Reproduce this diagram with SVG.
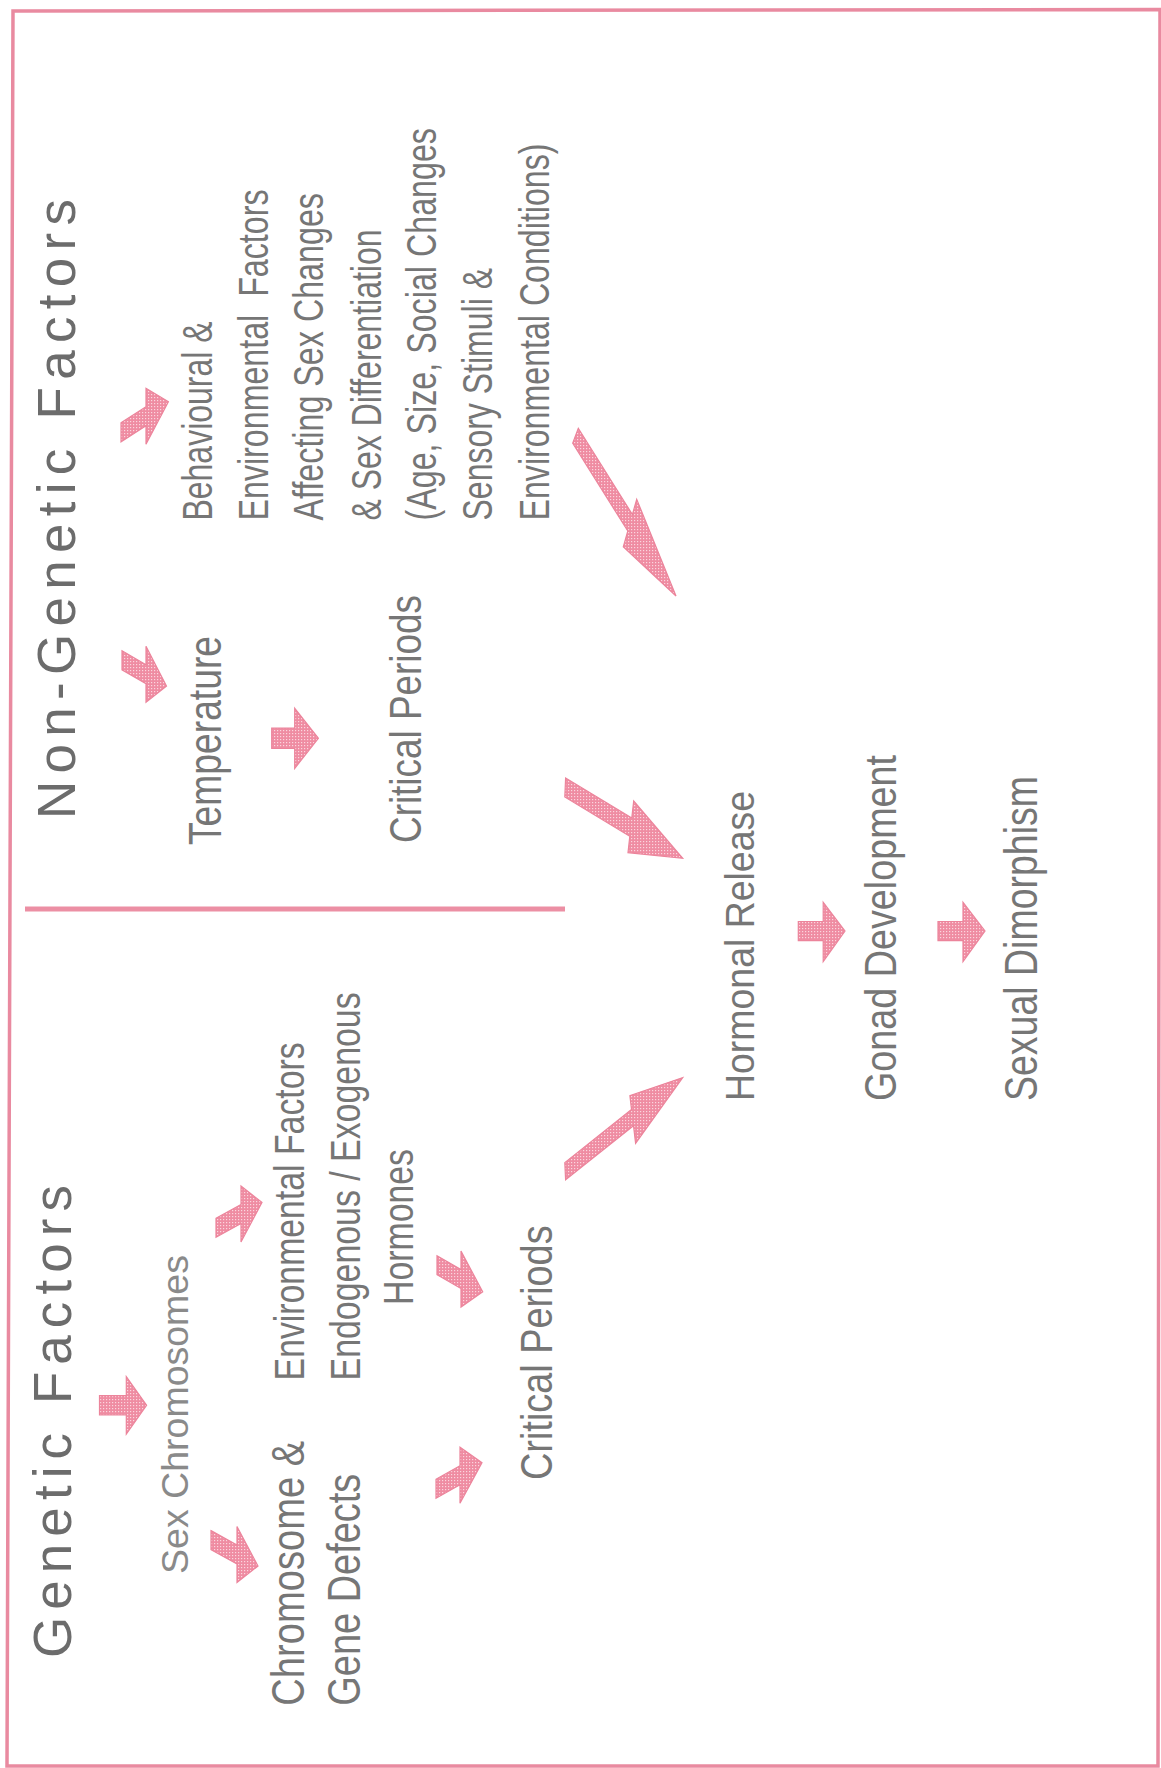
<svg xmlns="http://www.w3.org/2000/svg" width="1161" height="1768" viewBox="0 0 1161 1768">
<defs>
<pattern id="stip" width="3" height="3" patternUnits="userSpaceOnUse">
<rect width="3" height="3" fill="#ef8ca2"/>
<rect x="1" y="1" width="1.2" height="1.2" fill="#fbd6df"/>
</pattern>
</defs>
<style>
.t{font-family:"Liberation Sans Narrow","Liberation Sans",Arial,sans-serif;fill:#767676}
.w{font-family:"Liberation Sans",Arial,sans-serif;fill:#8a8a8a}
.h{font-family:"Liberation Sans",Arial,sans-serif;fill:#6c6c6c;font-size:53px}
.arr{fill:url(#stip);stroke:#ec849b;stroke-width:1.2;stroke-linejoin:miter}
</style>
<rect width="1161" height="1768" fill="#ffffff"/>
<polygon points="13,11 1160,9.5 1158,1766 7,1766" fill="none" stroke="#e98aa0" stroke-width="3.5"/>
<line x1="25" y1="909" x2="565" y2="909" stroke="#ec8fa4" stroke-width="5"/>

<g id="genetic-title"><text class="h" transform="translate(71,1658) rotate(-90)" textLength="473" lengthAdjust="spacing">Genetic Factors</text></g>
<g id="nongenetic-title"><text class="h" transform="translate(74.5,819) rotate(-90)" textLength="620" lengthAdjust="spacing">Non-Genetic Factors</text></g>

<g id="sex-chromosomes"><text class="w" font-size="37.5" transform="translate(187.5,1574) rotate(-90)" textLength="319" lengthAdjust="spacingAndGlyphs">Sex Chromosomes</text></g>
<g id="chromosome-gene-defects">
<text class="t" font-size="46" transform="translate(303.5,1705.7) rotate(-90)" textLength="265" lengthAdjust="spacingAndGlyphs">Chromosome &amp;</text>
<text class="t" font-size="46" transform="translate(359.5,1705.7) rotate(-90)" textLength="232" lengthAdjust="spacingAndGlyphs">Gene Defects</text>
</g>
<g id="environmental-hormones">
<text class="t" font-size="43" transform="translate(304,1380.4) rotate(-90)" textLength="338" lengthAdjust="spacingAndGlyphs">Environmental Factors</text>
<text class="t" font-size="43" transform="translate(359.5,1380.4) rotate(-90)" textLength="388" lengthAdjust="spacingAndGlyphs">Endogenous / Exogenous</text>
<text class="t" font-size="43" transform="translate(412.5,1305) rotate(-90)" textLength="156" lengthAdjust="spacingAndGlyphs">Hormones</text>
</g>
<g id="critical-periods-genetic"><text class="t" font-size="45" transform="translate(552,1480) rotate(-90)" textLength="254.6" lengthAdjust="spacingAndGlyphs">Critical Periods</text></g>

<g id="temperature"><text class="t" font-size="46" transform="translate(221,845) rotate(-90)" textLength="209" lengthAdjust="spacingAndGlyphs">Temperature</text></g>
<g id="critical-periods-nongenetic"><text class="t" font-size="45" transform="translate(421,843) rotate(-90)" textLength="248" lengthAdjust="spacingAndGlyphs">Critical Periods</text></g>
<g id="behavioural-factors">
<text class="t" font-size="42.5" transform="translate(212.4,520.5) rotate(-90)" textLength="199" lengthAdjust="spacingAndGlyphs">Behavioural &amp;</text>
<text class="t" font-size="42.5" transform="translate(267.6,520.5) rotate(-90)" textLength="331" lengthAdjust="spacingAndGlyphs" xml:space="preserve" style="white-space:pre">Environmental  Factors</text>
<text class="t" font-size="42.5" transform="translate(323.4,520.5) rotate(-90)" textLength="327.5" lengthAdjust="spacingAndGlyphs">Affecting Sex Changes</text>
<text class="t" font-size="42.5" transform="translate(380.6,520.5) rotate(-90)" textLength="291" lengthAdjust="spacingAndGlyphs">&amp; Sex Differentiation</text>
<text class="t" font-size="42.5" transform="translate(436.3,520.5) rotate(-90)" textLength="392.5" lengthAdjust="spacingAndGlyphs">(Age, Size, Social Changes</text>
<text class="t" font-size="42.5" transform="translate(491.6,520.5) rotate(-90)" textLength="252.5" lengthAdjust="spacingAndGlyphs">Sensory Stimuli &amp;</text>
<text class="t" font-size="42.5" transform="translate(549.2,520.5) rotate(-90)" textLength="377" lengthAdjust="spacingAndGlyphs">Environmental Conditions)</text>
</g>

<g id="hormonal-release"><text class="t" font-size="41" transform="translate(754.3,1101) rotate(-90)" textLength="310" lengthAdjust="spacingAndGlyphs">Hormonal Release</text></g>
<g id="gonad-development"><text class="t" font-size="45" transform="translate(895.5,1101) rotate(-90)" textLength="346" lengthAdjust="spacingAndGlyphs">Gonad Development</text></g>
<g id="sexual-dimorphism"><text class="t" font-size="46" transform="translate(1036.5,1101) rotate(-90)" textLength="325" lengthAdjust="spacingAndGlyphs">Sexual Dimorphism</text></g>

<g id="connectors">
<polygon class="arr" points="99.5,1395.7 126.3,1395.7 126.3,1376.6 146.6,1405.3 126.3,1434 126.3,1414.8 99.5,1414.8"/>
<polygon class="arr" points="211,1530.65 237,1544.95 237,1526.45 258,1566 237,1582.45 237,1563.95 211,1549.65"/>
<polygon class="arr" points="216,1218.3 241,1204.5 241,1186 262,1202.4 241,1242 241,1223.5 216,1237.3"/>
<polygon class="arr" points="436,1479.3 460,1465.7 460,1447.2 482,1462.7 460,1503.2 460,1484.7 436,1498.3"/>
<polygon class="arr" points="437,1255.7 461,1269.6 461,1251.1 482.7,1291.7 461,1307.1 461,1288.6 437,1274.7"/>
<polygon class="arr" points="564.8,1162.6 631.5,1109.4 629.9,1095.6 682.7,1077.6 635.6,1143.4 633.5,1125.7 565.6,1179.8"/>
<polygon class="arr" points="565.6,778 631.8,817.9 633.7,801 682.7,858.3 628,852.6 629.8,836.2 564.8,797"/>
<polygon class="arr" points="578.3,428.3 632.4,514.5 636.7,499.3 676,596 623.3,546.7 627.8,531 572.7,443.3"/>
<polygon class="arr" points="122,650.8 146,664.65 146,646.15 166.5,686 146,702.15 146,683.65 122,669.8"/>
<polygon class="arr" points="121,422.8 146,406.7 146,388.2 168.4,401.8 146,444.2 146,425.7 121,441.8"/>
<polygon class="arr" points="271.7,728 294.7,728 294.7,708.3 318.4,738.3 294.7,768.4 294.7,748.5 271.7,748.5"/>
<polygon class="arr" points="798.3,921.5 823.2,921.5 823.2,902.3 845,931 823.2,961.6 823.2,940.6 798.3,940.6"/>
<polygon class="arr" points="938,921.5 963,921.5 963,902.3 985,931 963,961.6 963,940.6 938,940.6"/>
</g>
</svg>
